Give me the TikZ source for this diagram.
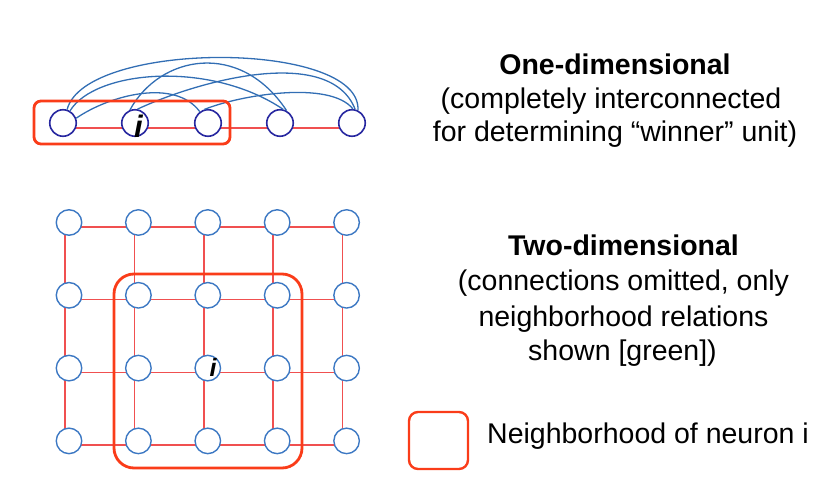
\documentclass[tikz,border=0pt]{standalone}
\usepackage{fontspec}
\setmainfont{Liberation Sans}
\usetikzlibrary{backgrounds}
\definecolor{gridred}{RGB}{240,80,80}
\definecolor{boxred}{RGB}{250,60,25}
\definecolor{navyone}{RGB}{40,40,160}
\definecolor{cblue}{RGB}{60,120,195}
\definecolor{arcblue}{RGB}{50,110,180}
\begin{document}
\begin{tikzpicture}[x=1pt,y=-1pt,
  neuronA/.style={circle,draw=navyone,fill=white,line width=1.6pt,minimum size=26.5pt,inner sep=0pt},
  neuronB/.style={circle,draw=cblue,fill=white,line width=1.4pt,minimum size=25.5pt,inner sep=0pt},
  link/.style={draw=gridred,line width=1.7pt},
  arcline/.style={draw=arcblue,line width=1.3pt},
  hood/.style={draw=boxred,line width=2.8pt,rounded corners=#1},
  txt/.style={font=\fontsize{28.5}{34}\selectfont,anchor=base,inner sep=0pt},
  ilab/.style={font=\fontsize{#1}{#1}\selectfont\bfseries\itshape,anchor=base,inner sep=0pt},
]
\useasboundingbox (0,0) rectangle (823,495);
% one-dimensional row
\foreach \i/\x in {1/63,2/135,3/208,4/280,5/352}
  \node[neuronA] (n\i) at (\x,123) {};
% two-dimensional grid
\foreach \r in {1,...,4}
  \foreach \c in {1,...,5}
    \node[neuronB] (g\r\c) at ({69+69.4*(\c-1)},{222.5+72.8*(\r-1)}) {};
% neighbourhood links
\begin{scope}[on background layer]
  \foreach \a/\b in {1/2,2/3,3/4,4/5}
    \draw[link] ([yshift=-5pt]n\a.center) -- ([yshift=-5pt]n\b.center);
  \foreach \r in {1,...,4}
    \foreach \c/\d in {1/2,2/3,3/4,4/5}
      \draw[link] ([yshift=-4.3pt]g\r\c.center) -- ([yshift=-4.3pt]g\r\d.center);
  \foreach \c in {1,...,5}
    \foreach \r/\s in {1/2,2/3,3/4}
      \draw[link] ([xshift=-4pt]g\r\c.center) -- ([xshift=-4pt]g\s\c.center);
\end{scope}
% complete interconnections
\draw[arcline] (n1.73) .. controls (85,40) and (362,40) .. (n5.65);
\draw[arcline] (n1.60) .. controls (95,70) and (210,60) .. (n4.77);
\draw[arcline] (n1.20) .. controls (110,95) and (175,78) .. (n3.126);
\draw[arcline] (n2.111) .. controls (160,55) and (240,40) .. (n4.62);
\draw[arcline] (n2.80) .. controls (200,80) and (330,45) .. (n5.77);
\draw[arcline] (n3.105) .. controls (240,95) and (330,80) .. (n5.86);
% i labels
\node[ilab=31] (i1) at (138.5,137) {i};
\node[ilab=25] (i2) at (213,376) {i};
% neighbourhoods
\draw[hood=7pt] (34,101) rectangle (230,144);
\draw[hood=20pt] (114,274) rectangle (302,468);
\draw[hood=9pt,line width=2.4pt] (409,412) rectangle (468,469);
% texts
\node[txt] (t1) at (615,75) {\bfseries One-dimensional};
\node[txt] (t2) at (611,108.5) {(completely interconnected};
\node[txt] (t3) at (615,142) {for determining “winner” unit)};
\node[txt] (t4) at (623.5,255.5) {\bfseries Two-dimensional};
\node[txt] (t5) at (623.5,290.7) {(connections omitted, only};
\node[txt] (t6) at (623.5,326) {neighborhood relations};
\node[txt] (t7) at (622.5,360) {shown [green])};
\node[txt,anchor=base west] (t8) at (487,443) {Neighborhood of neuron i};
\end{tikzpicture}
\end{document}
